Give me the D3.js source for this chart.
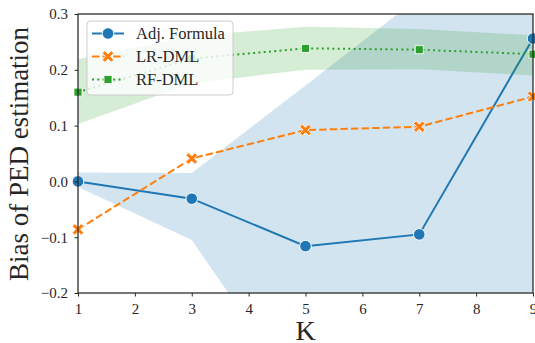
<!DOCTYPE html>
<html><head><meta charset="utf-8">
<script src="https://cdn.jsdelivr.net/npm/d3@7"></script>
<style>
html,body{margin:0;padding:0;background:#fff;}
svg{display:block;font-family:"Liberation Serif","DejaVu Serif",serif;}
.tick text{font-family:"Liberation Serif",serif !important;font-size:15px !important;fill:#262626;}
</style></head>
<body>
<svg id="chart" width="535" height="343"></svg>
<script>
const K = [1, 3, 5, 7, 9];
const adj = [0.000, -0.031, -0.116, -0.095, 0.256];
const adjLo = [-0.010, -0.105, -0.400, -0.450, -0.350];
const adjHi = [0.016, 0.015, 0.172, 0.330, 0.550];
const lr = [-0.086, 0.041, 0.092, 0.098, 0.152];
const rf = [0.160, 0.220, 0.2385, 0.236, 0.228];
const rfLo = [0.103, 0.176, 0.200, 0.201, 0.190];
const rfHi = [0.219, 0.261, 0.277, 0.273, 0.262];
const xTicks = [1, 2, 3, 4, 5, 6, 7, 8, 9];
const yTicks = [-0.2, -0.1, 0.0, 0.1, 0.2, 0.3];
const seriesNames = ["Adj. Formula", "LR-DML", "RF-DML"];

const blue = "#1f77b4", orange = "#ff7f0e", green = "#2ca02c";
const m = {l: 78, t: 14, r: 2, b: 50};
const W = 535, H = 343;
const iw = W - m.l - m.r, ih = H - m.t - m.b;
const svg = d3.select("#chart");
const g = svg.append("g").attr("transform", `translate(${m.l},${m.t})`);

const x = d3.scaleLinear().domain([1, 9]).range([0, iw]);
const y = d3.scaleLinear().domain([-0.2, 0.3]).range([ih, 0]);

g.append("defs").append("clipPath").attr("id", "clip")
  .append("rect").attr("width", iw).attr("height", ih);
const plot = g.append("g").attr("clip-path", "url(#clip)");

const area = (lo, hi) => d3.area().x((d, i) => x(K[i])).y0((d, i) => y(lo[i])).y1((d, i) => y(hi[i]))(K);
const line = vals => d3.line().x((d, i) => x(K[i])).y((d, i) => y(vals[i]))(K);

plot.append("path").attr("d", area(adjLo, adjHi)).attr("fill", blue).attr("fill-opacity", 0.2);
plot.append("path").attr("d", line(adj)).attr("fill", "none").attr("stroke", blue).attr("stroke-width", 2);
plot.append("path").attr("d", line(lr)).attr("fill", "none").attr("stroke", orange).attr("stroke-width", 2)
  .attr("stroke-dasharray", "7.4,3.2");
plot.append("path").attr("d", area(rfLo, rfHi)).attr("fill", green).attr("fill-opacity", 0.2);
plot.append("path").attr("d", line(rf)).attr("fill", "none").attr("stroke", green).attr("stroke-width", 2)
  .attr("stroke-dasharray", "2,3.3");

const mk = g.append("g");
const xPath = s => {
  const a = s * 0.5, b = s * 0.22;
  return `M${-a},${-a + b}L${-a + b},${-a}L0,${-b}L${a - b},${-a}L${a},${-a + b}L${b},0L${a},${a - b}L${a - b},${a}L0,${b}L${-a + b},${a}L${-a},${a - b}L${-b},0Z`;
};
function drawMarker(sel, type, cx, cy, color) {
  if (type === "o") sel.append("circle").attr("cx", cx).attr("cy", cy).attr("r", 5.8)
    .attr("fill", color).attr("stroke", "#fff").attr("stroke-width", 1);
  else if (type === "X") sel.append("path").attr("d", xPath(11.5)).attr("transform", `translate(${cx},${cy})`)
    .attr("fill", color).attr("stroke", "#fff").attr("stroke-width", 0.8);
  else sel.append("rect").attr("x", cx - 4).attr("y", cy - 4).attr("width", 8).attr("height", 8)
    .attr("fill", color).attr("stroke", "#fff").attr("stroke-width", 0.8);
}
K.forEach((k, i) => drawMarker(mk, "o", x(k), y(adj[i]), blue));
K.forEach((k, i) => drawMarker(mk, "X", x(k), y(lr[i]), orange));
K.forEach((k, i) => drawMarker(mk, "s", x(k), y(rf[i]), green));

const xAxis = d3.axisBottom(x).tickValues(xTicks).tickFormat(d3.format("d")).tickSize(3.5).tickPadding(6.5);
const yAxis = d3.axisLeft(y).tickValues(yTicks).tickFormat(d => d3.format(".1f")(d).replace("-", "\u2212")).tickSize(3.5).tickPadding(6.5);
const gx = g.append("g").attr("transform", `translate(0,${ih})`).call(xAxis);
const gy = g.append("g").call(yAxis);
[gx, gy].forEach(a => {
  a.attr("font-family", "Liberation Serif").attr("font-size", 15);
  a.select(".domain").remove();
  a.selectAll("line").attr("stroke", "#262626").attr("stroke-width", 1);
  a.selectAll("text").attr("fill", "#262626");
});
g.append("rect").attr("width", iw).attr("height", ih).attr("fill", "none")
  .attr("stroke", "#262626").attr("stroke-width", 1.25);

svg.append("text").attr("transform", `translate(28,154) rotate(-90)`).attr("text-anchor", "middle")
  .attr("font-size", 27).attr("fill", "#262626").text("Bias of PED estimation");
svg.append("text").attr("x", m.l + x(5)).attr("y", 340).attr("text-anchor", "middle")
  .attr("font-size", 28).attr("fill", "#262626").text("K");

const lg = g.append("g").attr("transform", `translate(${87 - m.l},${21 - m.t})`);
lg.append("rect").attr("width", 146).attr("height", 74).attr("rx", 3.5)
  .attr("fill", "#fff").attr("fill-opacity", 0.8).attr("stroke", "#cccccc").attr("stroke-width", 1);
const styles = [
  {c: blue, dash: null, t: "o"},
  {c: orange, dash: "7.4,3.2", t: "X"},
  {c: green, dash: "2,3.3", t: "s"}
];
seriesNames.forEach((nm, i) => {
  const yy = 12.5 + i * 23;
  lg.append("line").attr("x1", 5).attr("x2", 37).attr("y1", yy).attr("y2", yy)
    .attr("stroke", styles[i].c).attr("stroke-width", 2).attr("stroke-dasharray", styles[i].dash);
  drawMarker(lg, styles[i].t, 21, yy, styles[i].c);
  lg.append("text").attr("x", 49).attr("y", yy + 5.5).attr("font-size", 16.5).attr("fill", "#262626").text(nm);
});
</script>
</body></html>
